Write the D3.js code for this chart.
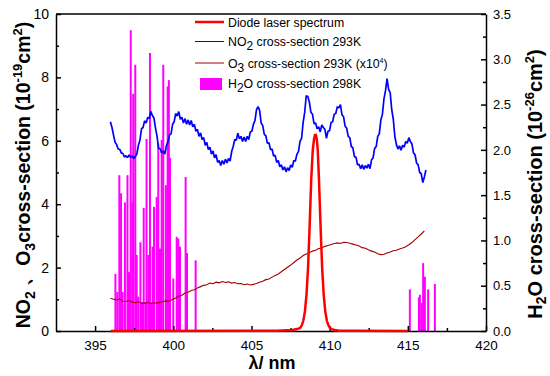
<!DOCTYPE html>
<html>
<head>
<meta charset="utf-8">
<script src="https://cdn.jsdelivr.net/npm/d3@7"></script>
<style>
  body { margin: 0; background: #fff; }
  svg text { font-family: "Liberation Sans", Arial, sans-serif; }
  .axis path, .axis line { stroke: #000; stroke-width: 1.5; }
  .axis text { fill: #000; }
</style>
</head>
<body>
<svg id="chart" width="550" height="376"></svg>
<script>
// NO2 cross-section, evenly sampled (nm, 1e-19 cm2)
const no2Start = 395.98, no2Step = 0.0994;
const no2Values = [
  6.60, 6.42, 6.18, 5.95, 5.88, 5.74, 5.73, 5.62, 5.60, 5.49,
  5.53, 5.47, 5.55, 5.48, 5.52, 5.44, 5.50, 5.58, 5.86, 6.02,
  6.38, 6.42, 6.63, 6.56, 6.74, 6.70, 6.93, 6.80, 6.72, 6.40,
  6.14, 5.76, 5.75, 5.62, 5.68, 5.58, 5.84, 5.96, 6.18, 6.22,
  6.52, 6.60, 6.86, 6.78, 6.92, 6.68, 6.74, 6.56, 6.70, 6.52,
  6.66, 6.50, 6.64, 6.44, 6.52, 6.30, 6.36, 6.14, 6.25, 6.04,
  6.10, 5.86, 5.95, 5.72, 5.80, 5.58, 5.68, 5.46, 5.56, 5.32,
  5.38, 5.22, 5.38, 5.26, 5.42, 5.30, 5.44, 5.36, 5.66, 5.82,
  6.04, 6.02, 6.24, 6.06, 6.14, 5.98, 6.12, 5.98, 6.14, 6.04,
  6.28, 6.30, 6.52, 6.64, 6.98, 7.08, 6.96, 6.56, 6.48, 6.20,
  6.16, 5.92, 5.94, 5.72, 5.74, 5.52, 5.54, 5.32, 5.38, 5.18,
  5.24, 5.08, 5.18, 5.02, 5.15, 5.06, 5.24, 5.16, 5.38, 5.36,
  5.58, 5.66, 5.98, 6.08, 6.58, 6.90, 7.42, 7.40, 7.22, 6.90,
  6.84, 6.54, 6.56, 6.38, 6.44, 6.28, 6.50, 6.42, 6.36, 6.08,
  6.30, 6.32, 6.58, 6.60, 6.84, 6.86, 7.08, 7.04, 7.14, 6.82,
  6.76, 6.46, 6.40, 6.14, 6.10, 5.82, 5.78, 5.50, 5.48, 5.24,
  5.26, 5.12, 5.24, 5.10, 5.22, 5.14, 5.26, 5.12, 5.40, 5.46,
  5.76, 5.82, 6.14, 6.22, 6.66, 6.84, 7.32, 7.58, 7.96, 7.62,
  7.52, 6.98, 6.68, 6.14, 5.88, 5.74, 5.84, 5.70, 5.86, 5.80,
  5.98, 5.92, 6.10, 5.98, 5.90, 5.62, 5.56, 5.30, 5.24, 5.00,
  4.96, 4.68, 4.86, 5.08
];

// O3 cross-section x1e4, evenly sampled
const o3Start = 395.98, o3Step = 0.1988;
const o3Values = [
  1.03, 1.00, 0.98, 1.01, 0.94, 0.93, 0.96, 0.91, 0.89, 0.92,
  0.87, 0.88, 0.90, 0.86, 0.89, 0.88, 0.91, 0.93, 0.95, 0.94,
  1.00, 1.04, 1.10, 1.13, 1.20, 1.22, 1.28, 1.30, 1.36, 1.40,
  1.44, 1.46, 1.51, 1.49, 1.54, 1.52, 1.56, 1.53, 1.55, 1.51,
  1.53, 1.49, 1.50, 1.46, 1.48, 1.45, 1.47, 1.50, 1.54, 1.57,
  1.62, 1.64, 1.70, 1.75, 1.80, 1.87, 1.94, 2.01, 2.08, 2.16,
  2.24, 2.30, 2.38, 2.43, 2.47, 2.52, 2.55, 2.60, 2.62, 2.67,
  2.70, 2.73, 2.76, 2.78, 2.76, 2.80, 2.79, 2.77, 2.74, 2.71,
  2.68, 2.63, 2.61, 2.56, 2.52, 2.49, 2.44, 2.41, 2.42, 2.46,
  2.49, 2.53, 2.55, 2.59, 2.62, 2.66, 2.72, 2.79, 2.88, 2.97,
  3.06, 3.16
];

// diode laser spectrum (wavelength, arb.)
const laserWl = [396.0, 406.62, 407.62, 407.92, 408.12, 408.22, 408.32, 408.42, 408.52, 408.62,
  408.72, 408.82, 408.92, 409.0, 409.06, 409.12, 409.18, 409.24, 409.32, 409.42,
  409.52, 409.62, 409.72, 409.82, 409.92, 410.02, 410.12, 410.32, 410.62, 411.62, 415.0];
const laserVal = [0, 0.01, 0.03, 0.06, 0.1, 0.18, 0.33, 0.62, 1.15, 2.0,
  3.3, 4.75, 5.7, 6.05, 6.18, 6.18, 6.05, 5.7, 4.75, 3.3,
  2.0, 1.15, 0.62, 0.33, 0.18, 0.1, 0.06, 0.03, 0.01, 0.005, 0];

// H2O line strengths (right axis, 1e-26 cm2)
const h2oWl = [396.30, 396.42, 396.55, 396.66, 396.76, 396.91, 397.07, 397.17, 397.28, 397.39,
  397.44, 397.57, 397.66, 397.76, 397.90, 398.00, 398.11, 398.24, 398.29, 398.40,
  398.51, 398.59, 398.68, 398.77, 398.94, 399.04, 399.15, 399.26, 399.36, 399.53,
  399.64, 399.72, 399.79, 400.00, 400.22, 400.32, 400.43, 400.79, 400.88, 401.43,
  415.13, 415.71, 415.77, 415.88, 415.98, 416.09, 416.30, 416.73];
const h2oVal = [0.63, 0.43, 1.72, 1.52, 0.43, 1.42, 1.72, 0.65, 3.32, 1.42,
  2.62, 2.94, 0.84, 0.38, 0.98, 0.32, 1.36, 0.32, 2.12, 0.84,
  3.07, 0.32, 0.93, 1.37, 1.48, 2.07, 0.91, 2.11, 2.94, 1.61,
  2.70, 2.77, 1.91, 0.58, 1.04, 1.02, 0.93, 1.70, 0.86, 0.78,
  0.46, 0.37, 0.40, 0.31, 0.75, 0.60, 0.46, 0.52];

const xTicks = [395, 400, 405, 410, 415, 420];
const xMinor = [397.5, 402.5, 407.5, 412.5, 417.5];
const yLeftTicks = [0, 2, 4, 6, 8, 10];
const yLeftMinor = [1, 3, 5, 7, 9];
const yRightTicks = [0, 0.5, 1.0, 1.5, 2.0, 2.5, 3.0, 3.5];
const yRightMinor = [0.25, 0.75, 1.25, 1.75, 2.25, 2.75, 3.25];

const plotLeft = 56, plotRight = 486, plotTop = 14, plotBottom = 331;
let svg = d3.select("#chart");

let x = d3.scaleLinear().domain([392.5, 420]).range([plotLeft, plotRight]);
let yL = d3.scaleLinear().domain([0, 10]).range([plotBottom, plotTop]);
let yR = d3.scaleLinear().domain([0, 3.5]).range([plotBottom, plotTop]);

// build point arrays
let no2 = no2Values.map((v, i) => [no2Start + i * no2Step, v]);
let o3 = o3Values.map((v, i) => [o3Start + i * o3Step, v]);
let laser = laserWl.map((w, i) => [w, laserVal[i]]);

let lineL = d3.line().x(d => x(d[0])).y(d => yL(d[1]));

// H2O sticks first, everything else sits on top
svg.append("g").selectAll("line")
  .data(h2oWl)
  .join("line")
  .attr("x1", d => x(d)).attr("x2", d => x(d))
  .attr("y1", yR(0))
  .attr("y2", (d, i) => yR(h2oVal[i]))
  .attr("stroke", "#ff00ff")
  .attr("stroke-width", 2);

svg.append("path").attr("d", lineL(no2))
  .attr("fill", "none").attr("stroke", "#0000ff").attr("stroke-width", 1.7)
  .attr("stroke-linejoin", "bevel");
svg.append("path").attr("d", lineL(o3))
  .attr("fill", "none").attr("stroke", "#a00000").attr("stroke-width", 1.1);

// axes
svg.append("g").attr("class", "axis")
  .attr("transform", `translate(0,${plotBottom})`)
  .call(d3.axisBottom(x).tickValues(xTicks).tickSize(-5).tickSizeOuter(0).tickPadding(9).tickFormat(d3.format("d")))
  .selectAll("text").attr("font-size", 13.5);
svg.append("g").attr("class", "axis")
  .attr("transform", `translate(0,${plotBottom})`)
  .call(d3.axisBottom(x).tickValues(xMinor).tickSize(-3).tickFormat(""))
  .select(".domain").remove();

svg.append("g").attr("class", "axis")
  .attr("transform", `translate(${plotLeft},0)`)
  .call(d3.axisLeft(yL).tickValues(yLeftTicks).tickSize(-5).tickSizeOuter(0).tickPadding(7))
  .selectAll("text").attr("font-size", 14);
svg.append("g").attr("class", "axis")
  .attr("transform", `translate(${plotLeft},0)`)
  .call(d3.axisLeft(yL).tickValues(yLeftMinor).tickSize(-3).tickFormat(""))
  .select(".domain").remove();

svg.append("g").attr("class", "axis")
  .attr("transform", `translate(${plotRight},0)`)
  .call(d3.axisRight(yR).tickValues(yRightTicks).tickSize(-5).tickSizeOuter(0).tickPadding(7).tickFormat(d3.format(".1f")))
  .selectAll("text").attr("font-size", 13).attr("fill", "#222");
svg.append("g").attr("class", "axis")
  .attr("transform", `translate(${plotRight},0)`)
  .call(d3.axisRight(yR).tickValues(yRightMinor).tickSize(-3).tickFormat(""))
  .select(".domain").remove();

// top frame line
svg.append("line")
  .attr("x1", plotLeft).attr("x2", plotRight).attr("y1", plotTop).attr("y2", plotTop)
  .attr("stroke", "#000").attr("stroke-width", 1.5);

// laser on top of the axis
svg.append("path").attr("d", lineL(laser))
  .attr("fill", "none").attr("stroke", "#ff0000").attr("stroke-width", 2.5);

// axis titles
svg.append("text")
  .attr("x", 272).attr("y", 369)
  .attr("text-anchor", "middle")
  .attr("font-size", 18).attr("font-weight", "bold")
  .text("λ/ nm");

let lt = svg.append("text")
  .attr("transform", "translate(30,175) rotate(-90)")
  .attr("text-anchor", "middle")
  .attr("font-size", 19.5).attr("font-weight", "bold");
lt.append("tspan").text("NO");
lt.append("tspan").attr("dy", 5).attr("font-size", 14).text("2");
lt.append("tspan").attr("dy", -5).text(" 、O");
lt.append("tspan").attr("dy", 5).attr("font-size", 14).text("3");
lt.append("tspan").attr("dy", -5).text("cross-section (10");
lt.append("tspan").attr("dy", -8).attr("font-size", 13).text("-19");
lt.append("tspan").attr("dy", 8).text("cm");
lt.append("tspan").attr("dy", -8).attr("font-size", 13).text("2");
lt.append("tspan").attr("dy", 8).text(")");

let rt = svg.append("text")
  .attr("transform", "translate(542,184) rotate(-90)")
  .attr("text-anchor", "middle")
  .attr("font-size", 20).attr("font-weight", "bold");
rt.append("tspan").text("H");
rt.append("tspan").attr("dy", 4).attr("font-size", 14).text("2");
rt.append("tspan").attr("dy", -4).text("O cross-section (10");
rt.append("tspan").attr("dy", -8).attr("font-size", 13).text("-26");
rt.append("tspan").attr("dy", 8).text("cm");
rt.append("tspan").attr("dy", -8).attr("font-size", 13).text("2");
rt.append("tspan").attr("dy", 8).text(")");

// legend
let lg = svg.append("g").attr("font-size", 12.3);
lg.append("line").attr("x1", 195).attr("x2", 224).attr("y1", 22).attr("y2", 22)
  .attr("stroke", "#ff0000").attr("stroke-width", 2.5);
lg.append("text").attr("x", 228).attr("y", 26.5).text("Diode laser spectrum");

lg.append("line").attr("x1", 195).attr("x2", 224).attr("y1", 41.5).attr("y2", 41.5)
  .attr("stroke", "#0000ff").attr("stroke-width", 1);
let t2 = lg.append("text").attr("x", 228).attr("y", 46);
t2.append("tspan").text("NO");
t2.append("tspan").attr("dy", 4).attr("font-size", 12).text("2");
t2.append("tspan").attr("dy", -4).text(" cross-section 293K");

lg.append("line").attr("x1", 195).attr("x2", 224).attr("y1", 63).attr("y2", 63)
  .attr("stroke", "#a00000").attr("stroke-width", 1);
let t3 = lg.append("text").attr("x", 228).attr("y", 67.5);
t3.append("tspan").text("O");
t3.append("tspan").attr("dy", 4).attr("font-size", 12).text("3");
t3.append("tspan").attr("dy", -4).text(" cross-section 293K (x10");
t3.append("tspan").attr("dy", -5).attr("font-size", 7).text("4");
t3.append("tspan").attr("dy", 5).text(")");

lg.append("rect").attr("x", 200).attr("y", 78).attr("width", 22).attr("height", 12)
  .attr("fill", "#ff00ff");
let t4 = lg.append("text").attr("x", 228).attr("y", 88);
t4.append("tspan").text("H");
t4.append("tspan").attr("dy", 4).attr("font-size", 12).text("2");
t4.append("tspan").attr("dy", -4).text("O cross-section 298K");
</script>
</body>
</html>
